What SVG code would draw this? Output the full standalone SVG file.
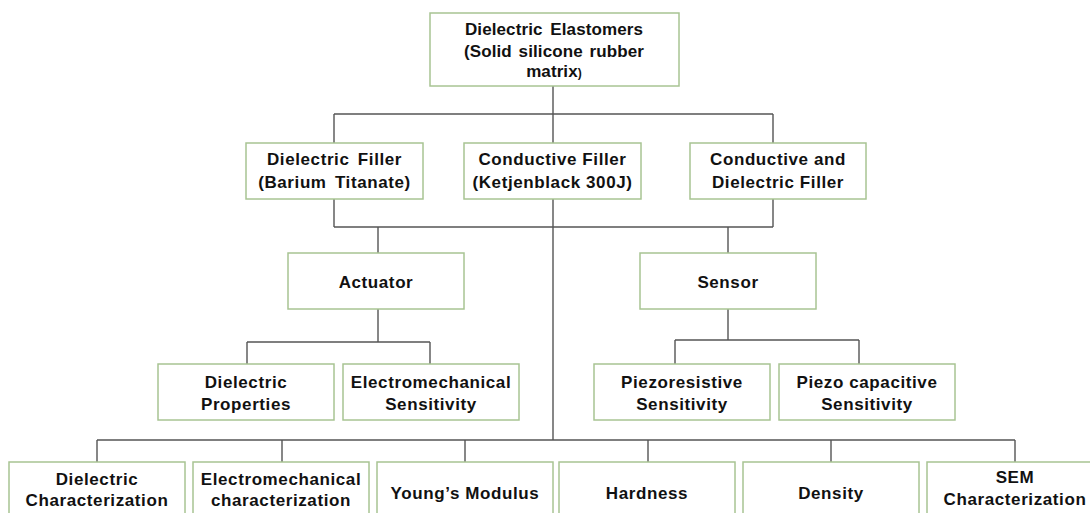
<svg xmlns="http://www.w3.org/2000/svg" width="1090" height="513" viewBox="0 0 1090 513">
<style>
.box{fill:#fff;stroke:#a8c493;stroke-width:1.5}
.t{font-family:"Liberation Sans",Arial,sans-serif;font-weight:bold;font-size:17px;letter-spacing:0.6px;fill:#111;text-anchor:middle}
.tt{letter-spacing:0.1px}
.c{fill:none;stroke:#555;stroke-width:1.4}
</style>
<rect width="1090" height="513" fill="#fff"/>
<g id="connectors" class="c">
<path d="M553,86V114M334,114H773M334,114V143M553,114V143M773,114V143"/>
<path d="M334,199V227M773,199V227M334,227H773M553,199V440"/>
<path d="M378,227V253M378,309V342M247,342H430M247,342V364M430,342V364"/>
<path d="M728,227V253M728,309V340M675,340H859M675,340V364M859,340V364"/>
<path d="M97,440H1015M97,440V462M282,440V462M465,440V462M648,440V462M831,440V462M1015,440V462"/>
</g>
<g id="root"><rect class="box" x="430" y="13" width="249" height="73"/>
<text class="t tt" x="554" y="35" style="word-spacing:3px">Dielectric Elastomers</text>
<text class="t tt" x="554" y="57" style="word-spacing:2px">(Solid silicone rubber</text>
<text class="t tt" x="554" y="77">matrix<tspan font-size="12">)</tspan></text></g>
<g id="dielectric-filler"><rect class="box" x="246" y="143" width="177" height="56"/>
<text class="t" x="334.5" y="165" style="word-spacing:3px">Dielectric Filler</text>
<text class="t" x="334.5" y="188" style="word-spacing:3px">(Barium Titanate)</text></g>
<g id="conductive-filler"><rect class="box" x="464" y="143" width="177" height="56"/>
<text class="t" x="552.5" y="165">Conductive Filler</text>
<text class="t" x="552.5" y="188">(Ketjenblack 300J)</text></g>
<g id="conductive-dielectric-filler"><rect class="box" x="690" y="143" width="176" height="56"/>
<text class="t" x="778" y="165">Conductive and</text>
<text class="t" x="778" y="188">Dielectric Filler</text></g>
<g id="actuator"><rect class="box" x="288" y="253" width="176" height="56"/>
<text class="t" x="376" y="288">Actuator</text></g>
<g id="sensor"><rect class="box" x="640" y="253" width="176" height="56"/>
<text class="t" x="728" y="288">Sensor</text></g>
<g id="dielectric-properties"><rect class="box" x="158" y="364" width="176" height="56"/>
<text class="t" x="246" y="388">Dielectric</text>
<text class="t" x="246" y="410">Properties</text></g>
<g id="electromechanical-sensitivity"><rect class="box" x="343" y="364" width="176" height="56"/>
<text class="t" x="431" y="388">Electromechanical</text>
<text class="t" x="431" y="410">Sensitivity</text></g>
<g id="piezoresistive"><rect class="box" x="594" y="364" width="176" height="56"/>
<text class="t" x="682" y="388">Piezoresistive</text>
<text class="t" x="682" y="410">Sensitivity</text></g>
<g id="piezocapacitive"><rect class="box" x="779" y="364" width="176" height="56"/>
<text class="t" x="867" y="388">Piezo capacitive</text>
<text class="t" x="867" y="410">Sensitivity</text></g>
<g id="dielectric-characterization"><rect class="box" x="9" y="462" width="176" height="64"/>
<text class="t" x="97" y="485">Dielectric</text>
<text class="t" x="97" y="506">Characterization</text></g>
<g id="electromechanical-characterization"><rect class="box" x="193" y="462" width="176" height="64"/>
<text class="t" x="281" y="485">Electromechanical</text>
<text class="t" x="281" y="506">characterization</text></g>
<g id="youngs-modulus"><rect class="box" x="377" y="462" width="176" height="64"/>
<text class="t" x="465" y="499">Young’s Modulus</text></g>
<g id="hardness"><rect class="box" x="559" y="462" width="176" height="64"/>
<text class="t" x="647" y="499">Hardness</text></g>
<g id="density"><rect class="box" x="743" y="462" width="176" height="64"/>
<text class="t" x="831" y="499">Density</text></g>
<g id="sem-characterization"><rect class="box" x="927" y="462" width="176" height="64"/>
<text class="t" x="1015" y="483">SEM</text>
<text class="t" x="1015" y="505">Characterization</text></g>
</svg>
